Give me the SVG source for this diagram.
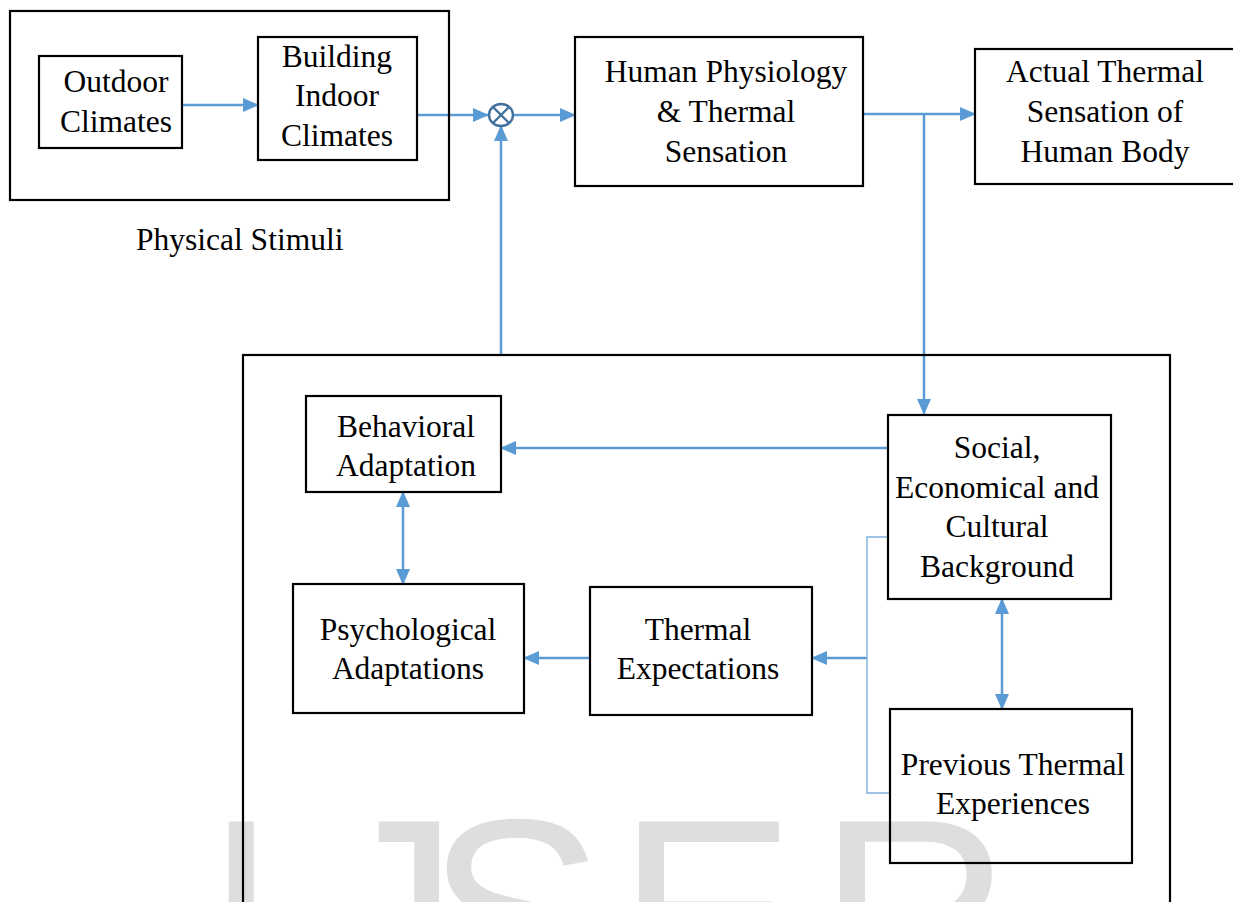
<svg xmlns="http://www.w3.org/2000/svg" width="1233" height="902" viewBox="0 0 1233 902">
  <style>
    .box { fill: none; stroke: #000; stroke-width: 2.2; }
    .lbl { font-family: "Liberation Serif", "Times New Roman", serif; font-size: 31.5px; fill: #000; text-anchor: middle; }
    .cap { font-family: "Liberation Serif", "Times New Roman", serif; font-size: 31.5px; fill: #000; }
    .wire { fill: none; stroke: #5b9bd5; stroke-width: 2.5; }
    .thin { fill: none; stroke: #7fb0e0; stroke-width: 1.4; }
    .mark { font-family: "Liberation Sans", Arial, sans-serif; font-size: 268px; fill: #dedede; }
  </style>
  <defs>
    <marker id="head" markerUnits="userSpaceOnUse" markerWidth="16" markerHeight="14" refX="15" refY="7" orient="auto-start-reverse">
      <path d="M0,0 L16,7 L0,14 Z" fill="#5b9bd5"/>
    </marker>
  </defs>

  <rect width="1233" height="902" fill="#fff"/>

  <!-- background watermark lettering -->
  <g id="watermark">
    <text class="mark" x="204" y="1006">I</text>
    <text class="mark" x="325" y="1006">J</text>
    <text class="mark" x="426" y="1006">S</text>
    <text class="mark" x="617" y="1006">E</text>
    <text class="mark" x="818" y="1006">R</text>
  </g>

  <!-- connectors -->
  <g id="connectors">
    <line class="wire" x1="182" y1="105" x2="258" y2="105" marker-end="url(#head)"/>
    <line class="wire" x1="417" y1="115" x2="488" y2="115" marker-end="url(#head)"/>
    <line class="wire" x1="514" y1="115" x2="575" y2="115" marker-end="url(#head)"/>
    <line class="wire" x1="501" y1="355" x2="501" y2="126" marker-end="url(#head)"/>
    <line class="wire" x1="863" y1="114" x2="975" y2="114" marker-end="url(#head)"/>
    <line class="wire" x1="924" y1="114" x2="924" y2="414" marker-end="url(#head)"/>
    <line class="wire" x1="888" y1="448" x2="501" y2="448" marker-end="url(#head)"/>
    <line class="wire" x1="403" y1="492" x2="403" y2="584" marker-start="url(#head)" marker-end="url(#head)"/>
    <line class="wire" x1="590" y1="658" x2="524" y2="658" marker-end="url(#head)"/>
    <line class="wire" x1="867" y1="658" x2="812" y2="658" marker-end="url(#head)"/>
    <line class="wire" x1="1002" y1="599" x2="1002" y2="709" marker-start="url(#head)" marker-end="url(#head)"/>
    <path class="thin" d="M888,537 H867 V793 H890"/>
  </g>

  <!-- summing junction -->
  <g id="junction" stroke="#41719c" stroke-width="2.4" fill="#fff">
    <ellipse cx="501" cy="115" rx="12" ry="11"/>
    <line x1="493" y1="107" x2="509" y2="123"/>
    <line x1="509" y1="107" x2="493" y2="123"/>
  </g>

  <g id="physical-stimuli">
    <rect class="box" x="10" y="11" width="439" height="189"/>
    <text class="cap" x="136" y="250">Physical Stimuli</text>
  </g>

  <g id="outdoor-climates">
    <rect class="box" x="39" y="56" width="143" height="92"/>
    <text class="lbl" x="116" y="92">Outdoor</text>
    <text class="lbl" x="116" y="132">Climates</text>
  </g>

  <g id="indoor-climates">
    <rect class="box" x="258" y="37" width="159" height="123"/>
    <text class="lbl" x="337" y="67">Building</text>
    <text class="lbl" x="337" y="106">Indoor</text>
    <text class="lbl" x="337" y="146">Climates</text>
  </g>

  <g id="physiology">
    <rect class="box" x="575" y="37" width="288" height="149"/>
    <text class="lbl" x="726" y="82">Human Physiology</text>
    <text class="lbl" x="726" y="122">&amp; Thermal</text>
    <text class="lbl" x="726" y="162">Sensation</text>
  </g>

  <g id="actual-sensation">
    <rect class="box" x="975" y="49" width="262" height="135"/>
    <text class="lbl" x="1105" y="82">Actual Thermal</text>
    <text class="lbl" x="1105" y="122">Sensation of</text>
    <text class="lbl" x="1105" y="162">Human Body</text>
  </g>

  <g id="adaptive-system">
    <rect class="box" x="243" y="355" width="927" height="560"/>
  </g>

  <g id="behavioral">
    <rect class="box" x="306" y="396" width="195" height="96"/>
    <text class="lbl" x="406" y="437">Behavioral</text>
    <text class="lbl" x="406" y="476">Adaptation</text>
  </g>

  <g id="psychological">
    <rect class="box" x="293" y="584" width="231" height="129"/>
    <text class="lbl" x="408" y="640">Psychological</text>
    <text class="lbl" x="408" y="679">Adaptations</text>
  </g>

  <g id="expectations">
    <rect class="box" x="590" y="587" width="222" height="128"/>
    <text class="lbl" x="698" y="640">Thermal</text>
    <text class="lbl" x="698" y="679">Expectations</text>
  </g>

  <g id="background">
    <rect class="box" x="888" y="415" width="223" height="184"/>
    <text class="lbl" x="997" y="458">Social,</text>
    <text class="lbl" x="997" y="498">Economical and</text>
    <text class="lbl" x="997" y="537">Cultural</text>
    <text class="lbl" x="997" y="577">Background</text>
  </g>

  <g id="experiences">
    <rect class="box" x="890" y="709" width="242" height="154"/>
    <text class="lbl" x="1013" y="775">Previous Thermal</text>
    <text class="lbl" x="1013" y="814">Experiences</text>
  </g>
</svg>
